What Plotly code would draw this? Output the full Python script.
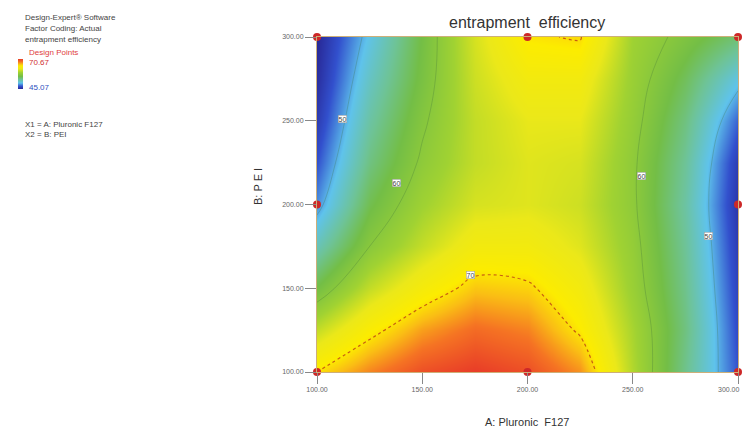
import plotly.graph_objects as go

# ---- data ----
pluronic = [100, 125, 150, 175, 200, 225, 250, 275, 300]          # A: Pluronic F127
pei = [100, 125, 150, 175, 200, 225, 250, 275, 300]               # B: PEI
# rows = PEI (100 -> 300), columns = Pluronic (100 -> 300)
efficiency = [
    [70.0, 73.5, 76.0, 77.0, 76.0, 73.0, 63.0, 55.0, 47.0],
    [64.0, 69.0, 72.5, 74.5, 73.5, 69.5, 62.5, 55.5, 46.5],
    [58.0, 64.0, 68.0, 71.0, 70.5, 67.5, 61.5, 55.0, 46.0],
    [53.0, 60.0, 64.0, 67.5, 67.5, 65.5, 61.0, 54.5, 45.5],
    [49.0, 57.5, 62.0, 65.0, 65.5, 64.5, 60.5, 54.0, 45.0],
    [47.0, 55.5, 60.5, 64.0, 65.5, 65.0, 60.5, 54.5, 45.5],
    [45.5, 54.0, 59.5, 64.0, 66.0, 66.0, 61.0, 55.5, 47.5],
    [44.5, 52.5, 58.5, 64.5, 67.5, 67.5, 61.5, 57.0, 51.0],
    [44.0, 51.0, 58.0, 65.0, 69.7, 70.2, 62.0, 59.0, 56.0],
]
design_a = [100, 100, 100, 200, 200, 300, 300, 300]
design_b = [100, 200, 300, 100, 300, 100, 200, 300]
label_a = [112, 138, 173, 254, 286]
label_b = [251, 213, 158, 217, 181]
label_text = ["50", "60", "70", "60", "50"]
tick_vals = [100, 150, 200, 250, 300]
tick_text = ["%.2f" % v for v in tick_vals]
legend_max = "70.67"
legend_min = "45.07"

# ---- layout helpers (page has an 8px body margin) ----
OFF = 8
W, H = 750 - 2 * OFF, 444 - 2 * OFF
L, R, T, B = 317 - OFF, W - (738 - OFF), 37 - OFF, H - (372 - OFF)
PW, PH = W - L - R, H - T - B


def px(x):
    return (x - OFF - L) / PW


def py(y):
    return (H - B - (y - OFF)) / PH


cscale = [
    [0.00, "rgb(40,40,150)"],
    [0.09, "rgb(50,80,205)"],
    [0.20, "rgb(95,195,235)"],
    [0.32, "rgb(110,195,150)"],
    [0.42, "rgb(115,190,70)"],
    [0.55, "rgb(160,210,50)"],
    [0.67, "rgb(235,232,25)"],
    [0.77, "rgb(252,236,0)"],
    [0.83, "rgb(250,190,20)"],
    [0.91, "rgb(245,115,35)"],
    [1.00, "rgb(232,60,40)"],
]

fig = go.Figure()
fig.add_trace(go.Heatmap(
    x=pluronic, y=pei, z=efficiency, zsmooth="best",
    colorscale=cscale, zmin=44, zmax=77,
    colorbar=dict(x=px(18), xanchor="left", y=py(74), yanchor="middle",
                  lenmode="pixels", len=30, thickness=5, showticklabels=False,
                  outlinewidth=0, xpad=0, ypad=0),
    hoverinfo="skip",
))
fig.add_trace(go.Contour(
    x=pluronic, y=pei, z=efficiency, showscale=False,
    contours=dict(start=50, end=60, size=10, coloring="none"),
    line=dict(color="rgba(60,110,60,0.35)", width=0.8, smoothing=1.2),
    hoverinfo="skip",
))
fig.add_trace(go.Contour(
    x=pluronic, y=pei, z=efficiency, showscale=False,
    contours=dict(start=70, end=70, size=1, coloring="none"),
    line=dict(color="rgba(190,70,20,0.85)", width=1.2, dash="dot", smoothing=1.2),
    hoverinfo="skip",
))
fig.add_trace(go.Scatter(
    x=design_a, y=design_b, mode="markers", cliponaxis=False,
    marker=dict(color="rgb(205,40,40)", size=8),
    hoverinfo="skip", showlegend=False,
))

ann = []
for a, b, t in zip(label_a, label_b, label_text):
    ann.append(dict(x=a, y=b, xref="x", yref="y", text=t, showarrow=False,
                    font=dict(size=7, color="#444", family="Liberation Sans"),
                    bgcolor="white", bordercolor="#999", borderwidth=0.5, borderpad=0))

info = [
    ("Design-Expert® Software", 23, 18, "#444"),
    ("Factor Coding: Actual", 23, 29, "#444"),
    ("entrapment efficiency", 23, 40, "#444"),
    ("Design Points", 27, 52, "#e04040"),
    (legend_max, 27, 62, "#d03030"),
    (legend_min, 27, 87, "#3050c0"),
    ("X1 = A: Pluronic F127", 23, 124, "#444"),
    ("X2 = B: PEI", 23, 134, "#444"),
]
for t, x, y, c in info:
    ann.append(dict(x=px(x), y=py(y), xref="paper", yref="paper", text=t,
                    showarrow=False, xanchor="left", yanchor="middle",
                    font=dict(size=8, color=c, family="Liberation Sans")))

# last x tick label, kept inside the page edge
ann.append(dict(x=px(742), y=py(390), xref="paper", yref="paper",
                text=tick_text[-1], showarrow=False, xanchor="right", yanchor="middle",
                font=dict(size=7, color="#666", family="Liberation Sans")))

ann.append(dict(x=px(527), y=py(22), xref="paper", yref="paper",
                text="entrapment  efficiency", showarrow=False,
                xanchor="center", yanchor="middle",
                font=dict(size=16, color="#333", family="Liberation Sans")))
ann.append(dict(x=px(527), y=py(422), xref="paper", yref="paper",
                text="A: Pluronic  F127", showarrow=False,
                xanchor="center", yanchor="middle",
                font=dict(size=11, color="#333", family="Liberation Sans")))
ann.append(dict(x=px(258), y=py(187), xref="paper", yref="paper",
                text="B: P E I", showarrow=False, textangle=-90,
                xanchor="center", yanchor="middle",
                font=dict(size=11, color="#333", family="Liberation Sans")))

axis_common = dict(range=[100, 300], tickvals=tick_vals,
                   ticks="outside", ticklen=11, tickcolor="#888",
                   tickfont=dict(size=7, color="#666", family="Liberation Sans"),
                   showgrid=False, zeroline=False, showline=True, automargin=False,
                   linecolor="rgb(205,175,120)", linewidth=1, mirror=True)

fig.update_layout(
    width=W, height=H,
    margin=dict(l=L, r=R, t=T, b=B, autoexpand=False),
    paper_bgcolor="white", plot_bgcolor="white",
    xaxis=dict(axis_common, ticktext=tick_text[:-1] + [""]),
    yaxis=dict(axis_common, ticktext=tick_text),
    annotations=ann, showlegend=False,
)
fig.write_html("out.html")
